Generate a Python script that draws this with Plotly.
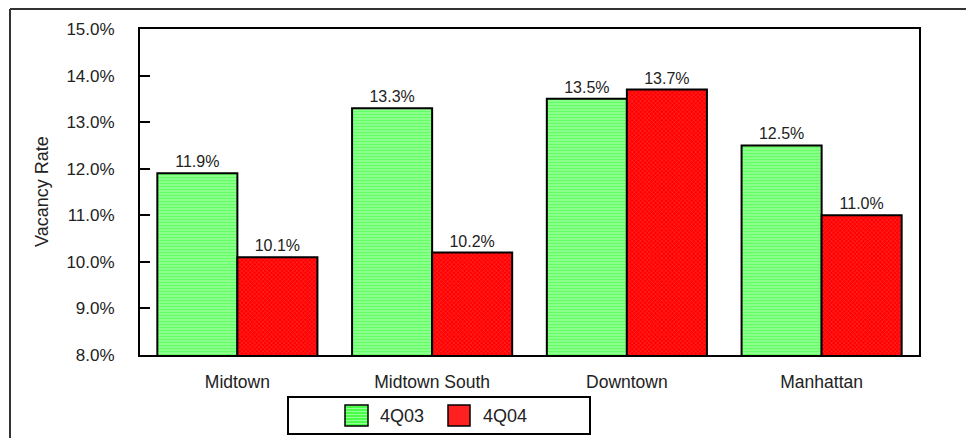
import plotly.graph_objects as go

# Office vacancy rates by Manhattan submarket
markets = ["Midtown", "Midtown South", "Downtown", "Manhattan"]
series_names = ["4Q03", "4Q04"]
vac_4q03 = [11.9, 13.3, 13.5, 12.5]
vac_4q04 = [10.1, 10.2, 13.7, 11.0]
y_ticks = [8, 9, 10, 11, 12, 13, 14, 15]
y_tick_labels = [f"{v:.1f}%" for v in y_ticks]

FONT = "Arial, Liberation Sans, sans-serif"
W, H = 966, 438
ML, MR, MT, MB = 140, 47, 29, 83
PW, PH = W - ML - MR, H - MT - MB


def px_x(px):
    return (px - ML) / PW


def px_y(py):
    return (H - MB - py) / PH


green_pattern = dict(shape="-", fgcolor="#2eff2e", bgcolor="#98ff98",
                     size=3, solidity=0.5)
red_pattern = dict(shape="x", fgcolor="#ff8a8a", bgcolor="#ff0000",
                   size=3, solidity=0.25)

fig = go.Figure()
for name, vals, pat in [(series_names[0], vac_4q03, green_pattern),
                        (series_names[1], vac_4q04, red_pattern)]:
    fig.add_trace(go.Bar(
        x=markets, y=vals, name=name, base=0,
        marker=dict(pattern=pat, line=dict(color="black", width=2)),
        texttemplate="%{y:.1f}%", textposition="outside",
        textfont=dict(family=FONT, size=16, color="#222"),
        cliponaxis=False, showlegend=False,
    ))

fig.update_layout(
    width=W, height=H,
    margin=dict(l=ML, r=MR, t=MT, b=MB, pad=0),
    paper_bgcolor="white", plot_bgcolor="white",
    barmode="group", bargap=0.178, bargroupgap=0,
    font=dict(family=FONT, size=16, color="#222"),
    xaxis=dict(showgrid=False, showline=True, linecolor="black", linewidth=2,
               mirror=True, ticks="", ticklabelstandoff=10,
               tickfont=dict(size=17.5)),
    yaxis=dict(range=[8, 15], tickvals=y_ticks, ticktext=y_tick_labels,
               showgrid=False, zeroline=False,
               showline=True, linecolor="black", linewidth=2, mirror=True,
               ticks="inside", ticklen=10, tickwidth=2, tickcolor="black",
               ticklabelstandoff=20, tickfont=dict(size=17)),
    showlegend=False,
)

# Y-axis title
fig.add_annotation(text="Vacancy Rate", xref="paper", yref="paper",
                   x=px_x(42), y=0.5, textangle=-90, showarrow=False,
                   xanchor="center", yanchor="middle",
                   font=dict(family=FONT, size=18, color="#222"))

# Outer frame (left and top edges)
fig.add_shape(type="line", xref="paper", yref="paper",
              x0=px_x(10), y0=px_y(9), x1=px_x(10), y1=px_y(445),
              line=dict(color="#333", width=2))
fig.add_shape(type="line", xref="paper", yref="paper",
              x0=px_x(10), y0=px_y(9), x1=px_x(975), y1=px_y(9),
              line=dict(color="#333", width=2))

# Legend box
fig.add_shape(type="rect", xref="paper", yref="paper",
              x0=px_x(288), y0=px_y(397), x1=px_x(590), y1=px_y(434),
              line=dict(color="black", width=2), fillcolor="white")

swatches = [
    (345, 368, 378, series_names[0], "#98ff98", "#2eff2e"),
    (448, 470, 481, series_names[1], "#ff2020", "#ff8a8a"),
]
for sx0, sx1, tx, label, fill, stripe in swatches:
    fig.add_shape(type="rect", xref="paper", yref="paper",
                  x0=px_x(sx0), y0=px_y(405), x1=px_x(sx1), y1=px_y(426),
                  line=dict(width=0), fillcolor=fill)
    if label == series_names[0]:
        for k in range(7):
            yy = 407 + 3 * k
            fig.add_shape(type="line", xref="paper", yref="paper",
                          x0=px_x(sx0), y0=px_y(yy), x1=px_x(sx1), y1=px_y(yy),
                          line=dict(color=stripe, width=1.5))
    fig.add_shape(type="rect", xref="paper", yref="paper",
                  x0=px_x(sx0), y0=px_y(405), x1=px_x(sx1), y1=px_y(426),
                  line=dict(color="black", width=1.5), fillcolor="rgba(0,0,0,0)")
    fig.add_annotation(text=label, xref="paper", yref="paper",
                       x=px_x(tx), y=px_y(415.5), showarrow=False,
                       xanchor="left", yanchor="middle",
                       font=dict(family=FONT, size=18, color="#222"))

fig.write_html("out.html")
